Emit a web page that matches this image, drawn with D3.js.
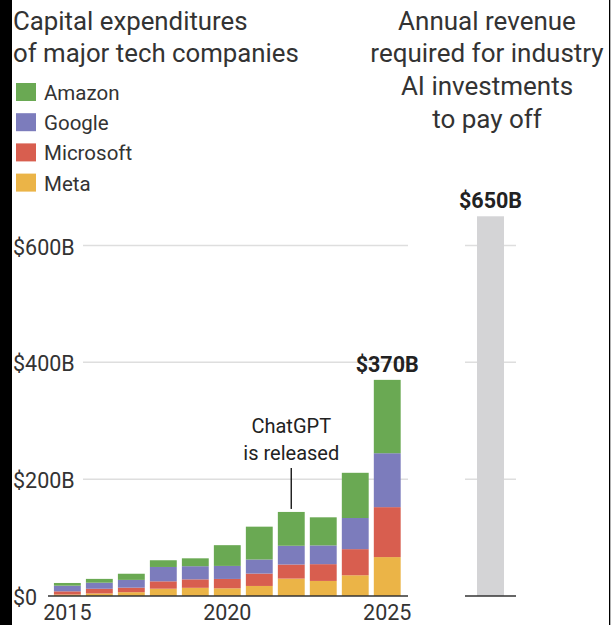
<!DOCTYPE html>
<html><head><meta charset="utf-8">
<script src="https://cdn.jsdelivr.net/npm/d3@7"></script>
<style>
html,body{margin:0;padding:0;background:#fff;}
svg{display:block;font-family:Roboto,"Noto Sans",sans-serif;}
</style></head>
<body><svg id="c" width="611" height="625"></svg>
<script>
const years = [2015,2016,2017,2018,2019,2020,2021,2022,2023,2024,2025];
const companies = ["Meta","Microsoft","Google","Amazon"];
const legendOrder = ["Amazon","Google","Microsoft","Meta"];
const amazon    = [4.6, 6.5, 10.5, 11.5, 13.5, 35.5, 56.2, 57.9, 48.1, 77.4, 125.6];
const google    = [9.7, 10.4, 13.3, 24.6, 22.5, 22.3, 24.1, 32.1, 32.1, 53.3, 92.3];
const microsoft = [5.5, 8.0, 7.8, 12.6, 14.5, 16.0, 21.2, 24.1, 28.7, 44.7, 85.5];
const meta      = [2.5, 4.4, 6.5, 12.5, 14.0, 13.2, 17.2, 29.8, 25.8, 35.5, 66.6];
const colors = {Amazon:"#6aa953", Google:"#7c7cbc", Microsoft:"#d85e4f", Meta:"#ebb447"};
const yTicks = [0,200,400,600];
const xTickYears = [2015,2020,2025];
const requiredRevenue = [{label:"required", value:650}];
const totalLabel = "$370B";
const requiredLabel = "$650B";

const rows = years.map((y,i)=>({year:y, Amazon:amazon[i], Google:google[i], Microsoft:microsoft[i], Meta:meta[i]}));
const svg = d3.select("#c");
const txt = "#333";

const y = d3.scaleLinear().domain([0,600]).range([596,245.5]);
const x = d3.scaleBand().domain(years).range([52,402.6]).paddingInner(0.16).paddingOuter(0.06);
const x2 = d3.scaleBand().domain(["required"]).range([465,516]).paddingInner(0).paddingOuter(0.444);

// black strips
svg.append("rect").attr("x",0).attr("y",0).attr("width",12).attr("height",625).attr("fill","#000");
svg.append("rect").attr("x",609).attr("y",0).attr("width",1.3).attr("height",625).attr("fill","#000");

// gridlines
const grid = svg.append("g");
yTicks.filter(d=>d>0).forEach(t=>{
  grid.append("line").attr("x1",83).attr("x2",408).attr("y1",y(t)).attr("y2",y(t)).attr("stroke","#dedede").attr("stroke-width",1.5);
  grid.append("line").attr("x1",465).attr("x2",516).attr("y1",y(t)).attr("y2",y(t)).attr("stroke","#dedede").attr("stroke-width",1.5);
});

// y axis labels
svg.append("g").selectAll("text").data(yTicks).join("text")
  .attr("x",13).attr("y",d=>y(d)+9)
  .attr("font-size",21.5).attr("fill",txt)
  .text(d=>d===0?"$0":"$"+d+"B");

// stacked bars
const stack = d3.stack().keys(companies)(rows);
svg.append("g").selectAll("g").data(stack).join("g")
  .attr("fill",d=>colors[d.key])
  .selectAll("rect").data(d=>d).join("rect")
  .attr("x",d=>x(d.data.year)).attr("width",x.bandwidth())
  .attr("y",d=>y(d[1])).attr("height",d=>y(d[0])-y(d[1]));

// required bar
svg.append("g").selectAll("rect").data(requiredRevenue).join("rect")
  .attr("x",d=>x2(d.label)).attr("width",x2.bandwidth())
  .attr("y",d=>y(d.value)).attr("height",d=>y(0)-y(d.value))
  .attr("fill","#d4d4d6");

// baselines
svg.append("line").attr("x1",48).attr("x2",408).attr("y1",y(0)).attr("y2",y(0)).attr("stroke","#333").attr("stroke-width",1.5);
svg.append("line").attr("x1",465).attr("x2",516).attr("y1",y(0)).attr("y2",y(0)).attr("stroke","#333").attr("stroke-width",1.5);

// x labels
svg.append("g").selectAll("text").data(xTickYears).join("text")
  .attr("x",d=>x(d)+x.bandwidth()/2).attr("y",619.5)
  .attr("text-anchor","middle").attr("font-size",21.5).attr("fill",txt)
  .text(d=>d);

// total labels
const last = rows[rows.length-1];
const lastTotal = last.Amazon+last.Google+last.Microsoft+last.Meta;
svg.append("text").attr("x",x(2025)+x.bandwidth()/2).attr("y",y(lastTotal)-8)
  .attr("text-anchor","middle").attr("font-size",21.5).attr("font-weight","bold").attr("fill","#222").text(totalLabel);
svg.append("text").attr("x",x2("required")+x2.bandwidth()/2).attr("y",y(650)-8)
  .attr("text-anchor","middle").attr("font-size",21.5).attr("font-weight","bold").attr("fill","#222").text(requiredLabel);

// annotation
const ax = x(2022)+x.bandwidth()/2;
const r22 = rows[7];
svg.append("line").attr("x1",ax).attr("x2",ax).attr("y1",468).attr("y2",y(r22.Amazon+r22.Google+r22.Microsoft+r22.Meta)-3)
  .attr("stroke","#222").attr("stroke-width",1.5);
svg.append("text").attr("x",ax).attr("y",433).attr("text-anchor","middle").attr("font-size",20).attr("fill","#222").text("ChatGPT");
svg.append("text").attr("x",ax).attr("y",460).attr("text-anchor","middle").attr("font-size",20).attr("fill","#222").text("is released");

// titles
const t1 = svg.append("text").attr("font-size",25.8).attr("fill",txt);
t1.append("tspan").attr("x",13).attr("y",29.5).text("Capital expenditures");
t1.append("tspan").attr("x",13).attr("y",62).text("of major tech companies");
const t2 = svg.append("text").attr("font-size",26).attr("fill",txt).attr("text-anchor","middle");
["Annual revenue","required for industry","AI investments","to pay off"].forEach((s,i)=>
  t2.append("tspan").attr("x",487).attr("y",29.5+i*32.7).text(s));

// legend
const lg = svg.append("g").selectAll("g").data(legendOrder).join("g")
  .attr("transform",(d,i)=>`translate(16,${83+i*30.2})`);
lg.append("rect").attr("width",20).attr("height",18).attr("fill",d=>colors[d]);
lg.append("text").attr("x",28).attr("y",17).attr("font-size",20.5).attr("fill",txt).text(d=>d);
</script></body></html>
